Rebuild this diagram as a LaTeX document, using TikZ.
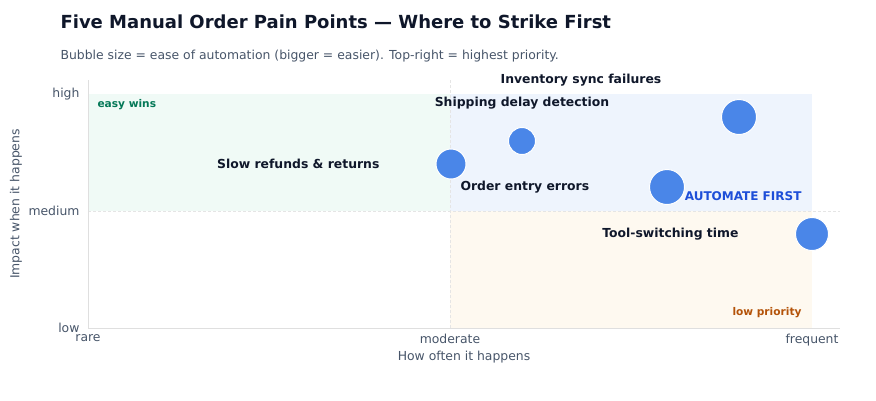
\documentclass[tikz,border=0pt]{standalone}
\usepackage{fontspec}
\setmainfont{DejaVu Sans}
\definecolor{ink}{HTML}{0F172A}
\definecolor{muted}{HTML}{475569}
\definecolor{bubble}{HTML}{4A86E8}
\definecolor{easyc}{HTML}{047857}
\definecolor{autoc}{HTML}{1D4ED8}
\definecolor{lowc}{HTML}{B45309}
\definecolor{easyf}{HTML}{F0FAF6}
\definecolor{autof}{HTML}{EEF4FD}
\definecolor{lowf}{HTML}{FEF9F0}
\tikzset{
  tick/.style={font=\fontsize{12.4}{14}\selectfont, text=muted},
  pain/.style={font=\fontsize{12.4}{14}\selectfont\bfseries, text=ink},
  bub/.style={circle, fill=bubble, draw=white, line width=1pt, inner sep=0pt},
  grid/.style={densely dashed, draw=gray!20, line width=0.6pt}
}
\begin{document}
\begin{tikzpicture}[x=1pt,y=-1pt]
  \useasboundingbox (0,0) rectangle (876,400);
  % quadrants
  \fill[easyf] (88,94) rectangle (450,211);
  \fill[autof] (450,94) rectangle (812,211);
  \fill[lowf] (450,211) rectangle (812,328);
  \draw[grid] (450,80) -- (450,328);
  \draw[grid] (88,211) -- (840,211);
  % axes
  \draw[gray!25, line width=0.6pt] (88,80) -- (88,328) -- (840,328);
  \node[tick, anchor=east] (yh) at (83,94) {high};
  \node[tick, anchor=east] (ym) at (83,211) {medium};
  \node[tick, anchor=east] (yl) at (83,328) {low};
  \node[tick, anchor=north] (xr) at (88,331) {rare};
  \node[tick, anchor=north] (xm) at (450,331) {moderate};
  \node[tick, anchor=north] (xf) at (812,331) {frequent};
  \node[tick, rotate=90] (ylab) at (16,204) {Impact when it happens};
  \node[tick] (xlab) at (464,357) {How often it happens};
  % title
  \node[anchor=west, font=\fontsize{18}{21}\selectfont\bfseries, text=ink] (title) at (57,22) {Five Manual Order Pain Points — Where to Strike First};
  \node[anchor=west, font=\fontsize{12.4}{14}\selectfont, text=muted] (sub) at (57,56) {Bubble size = ease of automation (bigger = easier). Top-right = highest priority.};
  % quadrant tags
  \node[anchor=west, font=\fontsize{10.6}{12}\selectfont\bfseries, text=easyc] (easy) at (94,105) {easy wins};
  \node[anchor=east, font=\fontsize{12}{14}\selectfont\bfseries, text=autoc] (auto) at (805,196) {AUTOMATE FIRST};
  \node[anchor=east, font=\fontsize{10.6}{12}\selectfont\bfseries, text=lowc] (low) at (805,313) {low priority};
  % bubbles
  \node[bub, minimum size=35pt] (inv) at (739,117) {};
  \node[bub, minimum size=27pt] (ship) at (522,141) {};
  \node[bub, minimum size=30pt] (ref) at (451,164) {};
  \node[bub, minimum size=35pt] (ord) at (667,187) {};
  \node[bub, minimum size=33pt] (tool) at (812,234) {};
  % labels
  \node[pain] (invl) at (581,80) {Inventory sync failures};
  \node[pain] (shipl) at (522,103) {Shipping delay detection};
  \node[pain, anchor=east] (refl) at (383,164) {Slow refunds \& returns};
  \node[pain, anchor=west] (ordl) at (457,187) {Order entry errors};
  \node[pain, anchor=east] (tooll) at (742,234) {Tool-switching time};
\end{tikzpicture}
\end{document}
